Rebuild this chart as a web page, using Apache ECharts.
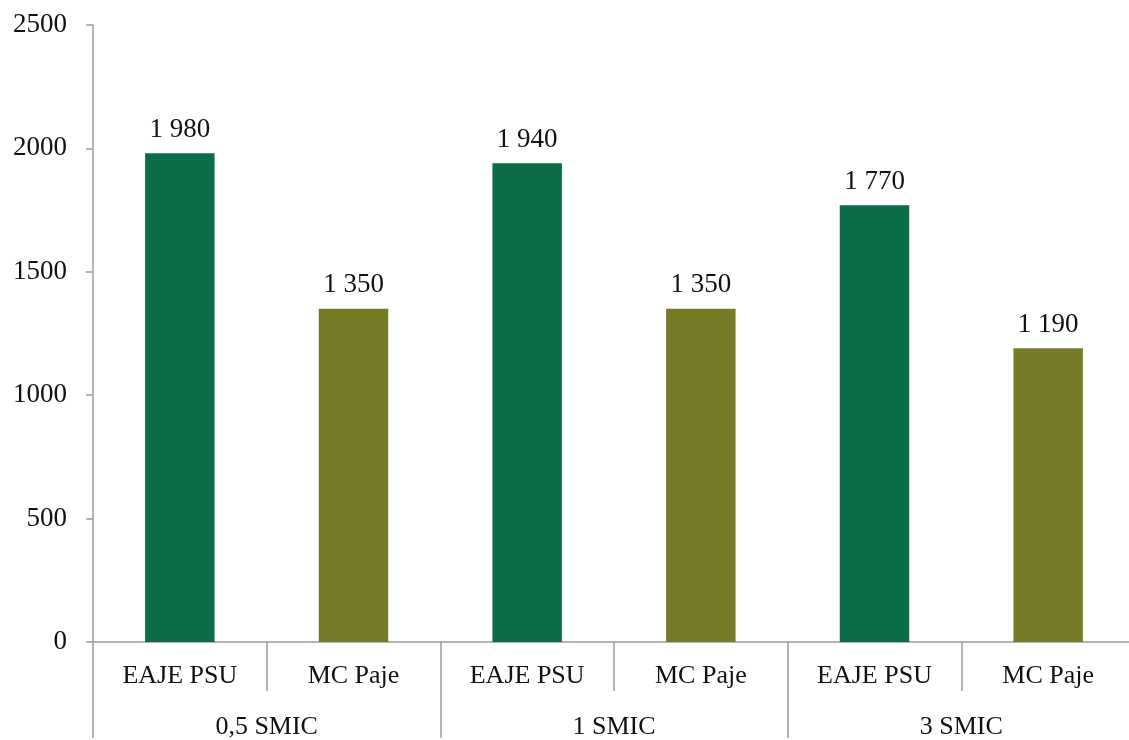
<!DOCTYPE html>
<html>
<head>
<meta charset="utf-8">
<script src="https://cdn.jsdelivr.net/npm/echarts@6/dist/echarts.min.js"></script>
<style>
  html, body { margin: 0; padding: 0; background: #fff; overflow: hidden; }
  /* plot area runs a few pixels past the right edge of the window */
  #chart { width: 1136px; height: 740px; }
</style>
</head>
<body>
<div id="chart"></div>
<script>
// Monthly cost by childcare mode, grouped by income level
const modes = ['EAJE PSU', 'MC Paje', 'EAJE PSU', 'MC Paje', 'EAJE PSU', 'MC Paje'];
const groups = ['0,5 SMIC', '1 SMIC', '3 SMIC'];
const costs = [1980, 1350, 1940, 1350, 1770, 1190];
const modeColors = ['#0b6c47', '#767b28'];

const FONT = 'Liberation Serif';
const AXIS_GREY = '#9c9c9c';

function withSpaces(v) {
  return String(v).replace(/\B(?=(\d{3})+(?!\d))/g, ' ');
}

const chart = echarts.init(document.getElementById('chart'), null, { renderer: 'canvas' });

chart.setOption({
  animation: false,
  textStyle: { fontFamily: FONT },
  grid: { left: 93, top: 25, right: 1, bottom: 96, containLabel: false },
  xAxis: [
    {
      type: 'category',
      data: modes,
      position: 'bottom',
      axisLine: { show: true, lineStyle: { color: AXIS_GREY, width: 1.5 } },
      axisTick: { show: true, interval: 0, length: 49, lineStyle: { color: AXIS_GREY, width: 1.5 } },
      axisLabel: { interval: 0, margin: 21, fontSize: 26, color: '#111', fontFamily: FONT }
    },
    {
      type: 'category',
      data: groups,
      position: 'bottom',
      axisLine: { show: false },
      axisTick: { show: true, interval: 0, length: 96, lineStyle: { color: AXIS_GREY, width: 1.5 } },
      axisLabel: { interval: 0, margin: 72, fontSize: 26, color: '#111', fontFamily: FONT }
    }
  ],
  yAxis: {
    type: 'value',
    min: 0,
    max: 2500,
    interval: 500,
    axisLine: { show: true, lineStyle: { color: AXIS_GREY, width: 1.5 } },
    axisTick: { show: true, length: 7, lineStyle: { color: AXIS_GREY, width: 1.5 } },
    splitLine: { show: false },
    axisLabel: { margin: 26, fontSize: 27, color: '#111', fontFamily: FONT, formatter: v => String(v) }
  },
  series: [
    {
      type: 'bar',
      xAxisIndex: 0,
      data: costs,
      barWidth: '40%',
      itemStyle: { color: p => modeColors[p.dataIndex % 2] },
      label: {
        show: true,
        position: 'top',
        distance: 10,
        fontSize: 27,
        color: '#111',
        fontFamily: FONT,
        formatter: p => withSpaces(p.value)
      }
    }
  ]
});
</script>
</body>
</html>
